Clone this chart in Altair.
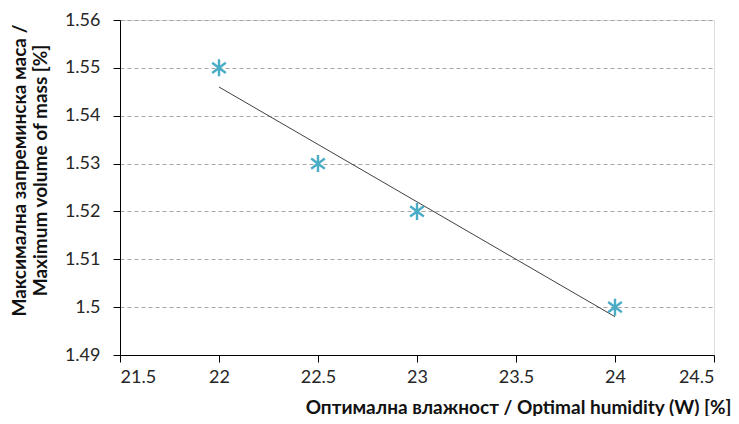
import altair as alt
import pandas as pd

humidity = [22, 22.5, 23, 24]
volume = [1.55, 1.53, 1.52, 1.50]

df = pd.DataFrame({"x": humidity, "y": volume})

FONT = "Lato"
star = "M0,-1L0,1M-0.8,-0.6L0.8,0.6M-0.8,0.6L0.8,-0.6"

xenc = alt.X("x:Q", scale=alt.Scale(domain=[21.5, 24.5], nice=False, zero=False),
             axis=alt.Axis(values=[21.5, 22, 22.5, 23, 23.5, 24, 24.5], format="~g",
                           title="Оптимална влажност / Optimal humidity (W) [%]",
                           grid=False, domainColor="black", tickColor="black", tickSize=7,
                           labelFont=FONT, labelFontSize=18, labelColor="#262626", labelPadding=6,
                           titleFont=FONT, titleFontSize=19, titleFontWeight="bold", titleColor="#111",
                           titleAnchor="end", titleAlign="right", titleX=611, titleY=58,
                           titleBaseline="alphabetic"))
yenc = alt.Y("y:Q", scale=alt.Scale(domain=[1.49, 1.56], nice=False, zero=False),
             axis=alt.Axis(values=[1.49, 1.5, 1.51, 1.52, 1.53, 1.54, 1.55, 1.56], format="~g",
                           title=["Максимална запреминска маса /", "Maximum volume of mass [%]"],
                           grid=True, gridDash=[4, 3], gridColor="#a6a6a6",
                           domainColor="black", tickColor="black", tickSize=7,
                           labelFont=FONT, labelFontSize=18, labelColor="#262626", labelPadding=13,
                           titleFont=FONT, titleFontSize=19, titleFontWeight="bold", titleColor="#111",
                           titleAngle=-90, titleAlign="center", titleBaseline="top",
                           titleX=-110, titleY=150, titleLineHeight=21))

points = alt.Chart(df).mark_point(shape=star, size=290, strokeWidth=2.4, color="#4bacc6",
                                  filled=False, opacity=1).encode(x=xenc, y=yenc)
trend = alt.Chart(df).transform_regression("x", "y").mark_line(
    color="#404040", strokeWidth=1).encode(x="x:Q", y="y:Q")

chart = alt.layer(trend, points).properties(
    width=594, height=335,
    autosize=alt.AutoSizeParams(type="none"),
    padding={"left": 112, "top": 12, "right": 17, "bottom": 61},
).configure_view(stroke="#7f7f7f", strokeWidth=1.2).configure(background="white")

chart.save("out.html", embed_options={"renderer": "svg", "actions": False})
